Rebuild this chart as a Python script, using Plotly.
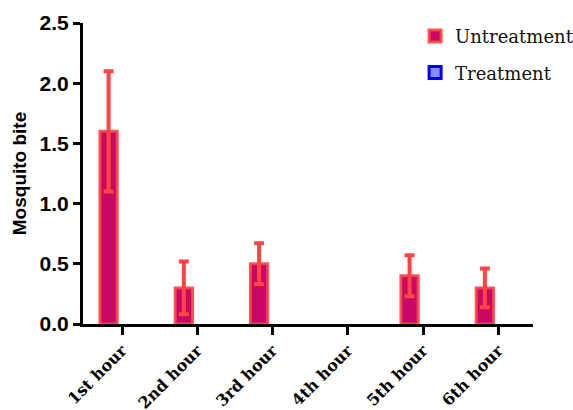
import plotly.graph_objects as go

categories = ["1st hour", "2nd hour", "3rd hour", "4th hour", "5th hour", "6th hour"]
untreat_mean = [1.6, 0.3, 0.5, 0.0, 0.4, 0.3]
untreat_err = [0.5, 0.22, 0.17, 0.0, 0.17, 0.16]
treat_mean = [0, 0, 0, 0, 0, 0]
treat_err = [0, 0, 0, 0, 0, 0]
y_ticks = [0.0, 0.5, 1.0, 1.5, 2.0, 2.5]

UNT_FILL, UNT_LINE = "#C80864", "rgba(255,70,70,0.9)"
TRT_FILL, TRT_LINE = "#8C8CFF", "#0000FF"


def nonzero(cats, vals, errs):
    """Zero-height bars are hidden under the axis; keep only the visible ones."""
    keep = [i for i, v in enumerate(vals) if v > 0]
    return ([cats[i] for i in keep], [vals[i] for i in keep], [errs[i] for i in keep])


fig = go.Figure()
for name, vals, errs, fc, lc, ec, off in [
    ("Untreatment", untreat_mean, untreat_err, UNT_FILL, UNT_LINE, "#FF4444", -0.295),
    ("Treatment", treat_mean, treat_err, TRT_FILL, TRT_LINE, TRT_LINE, 0.065),
]:
    xs, ys, es = nonzero(categories, vals, errs)
    fig.add_trace(go.Bar(
        x=xs, y=ys, name=name, showlegend=False,
        marker=dict(color=fc, line=dict(color=lc, width=3)),
        width=0.23, offset=off,
        error_y=dict(type="data", array=es, visible=True,
                     color=ec, thickness=4, width=5),
    ))
    # legend entry
    fig.add_trace(go.Bar(
        x=[categories[0]], y=[None], name=name, legendgroup=name,
        marker=dict(color=fc, line=dict(color=lc, width=3)),
        width=0.23, offset=0,
    ))

fig.update_layout(
    width=573, height=410,
    margin=dict(l=83, r=40, t=23, b=86, autoexpand=False),
    plot_bgcolor="white", paper_bgcolor="white",
    barmode="overlay",
    showlegend=True,
    legend=dict(x=0.738, y=1.017, xanchor="left", yanchor="top",
                font=dict(family="DejaVu Serif", size=18, color="#111"),
                traceorder="grouped", tracegroupgap=10,
                bgcolor="rgba(0,0,0,0)"),
    xaxis=dict(
        type="category", categoryorder="array", categoryarray=categories,
        range=[-0.52, 5.46], showline=True, linecolor="black", linewidth=3,
        ticks="outside", ticklen=8, tickwidth=3, tickcolor="black",
        tickangle=-45, showgrid=False, zeroline=False, automargin=False,
        tickfont=dict(family="DejaVu Serif", size=16, color="black", weight="bold"),
    ),
    yaxis=dict(
        range=[0, 2.5], showline=True, linecolor="black", linewidth=3,
        ticks="outside", ticklen=7, tickwidth=3, tickcolor="black",
        tickvals=y_ticks, tickformat=".1f", showgrid=False, zeroline=False,
        automargin=False,
        tickfont=dict(family="Liberation Sans", size=21, color="black", weight="bold"),
        title=dict(text="Mosquito bite", standoff=8,
                   font=dict(family="Liberation Sans", size=19, color="black", weight="bold")),
    ),
)

fig.write_html("out.html", config={"displayModeBar": False},
               post_script="document.body.style.margin='0';")
